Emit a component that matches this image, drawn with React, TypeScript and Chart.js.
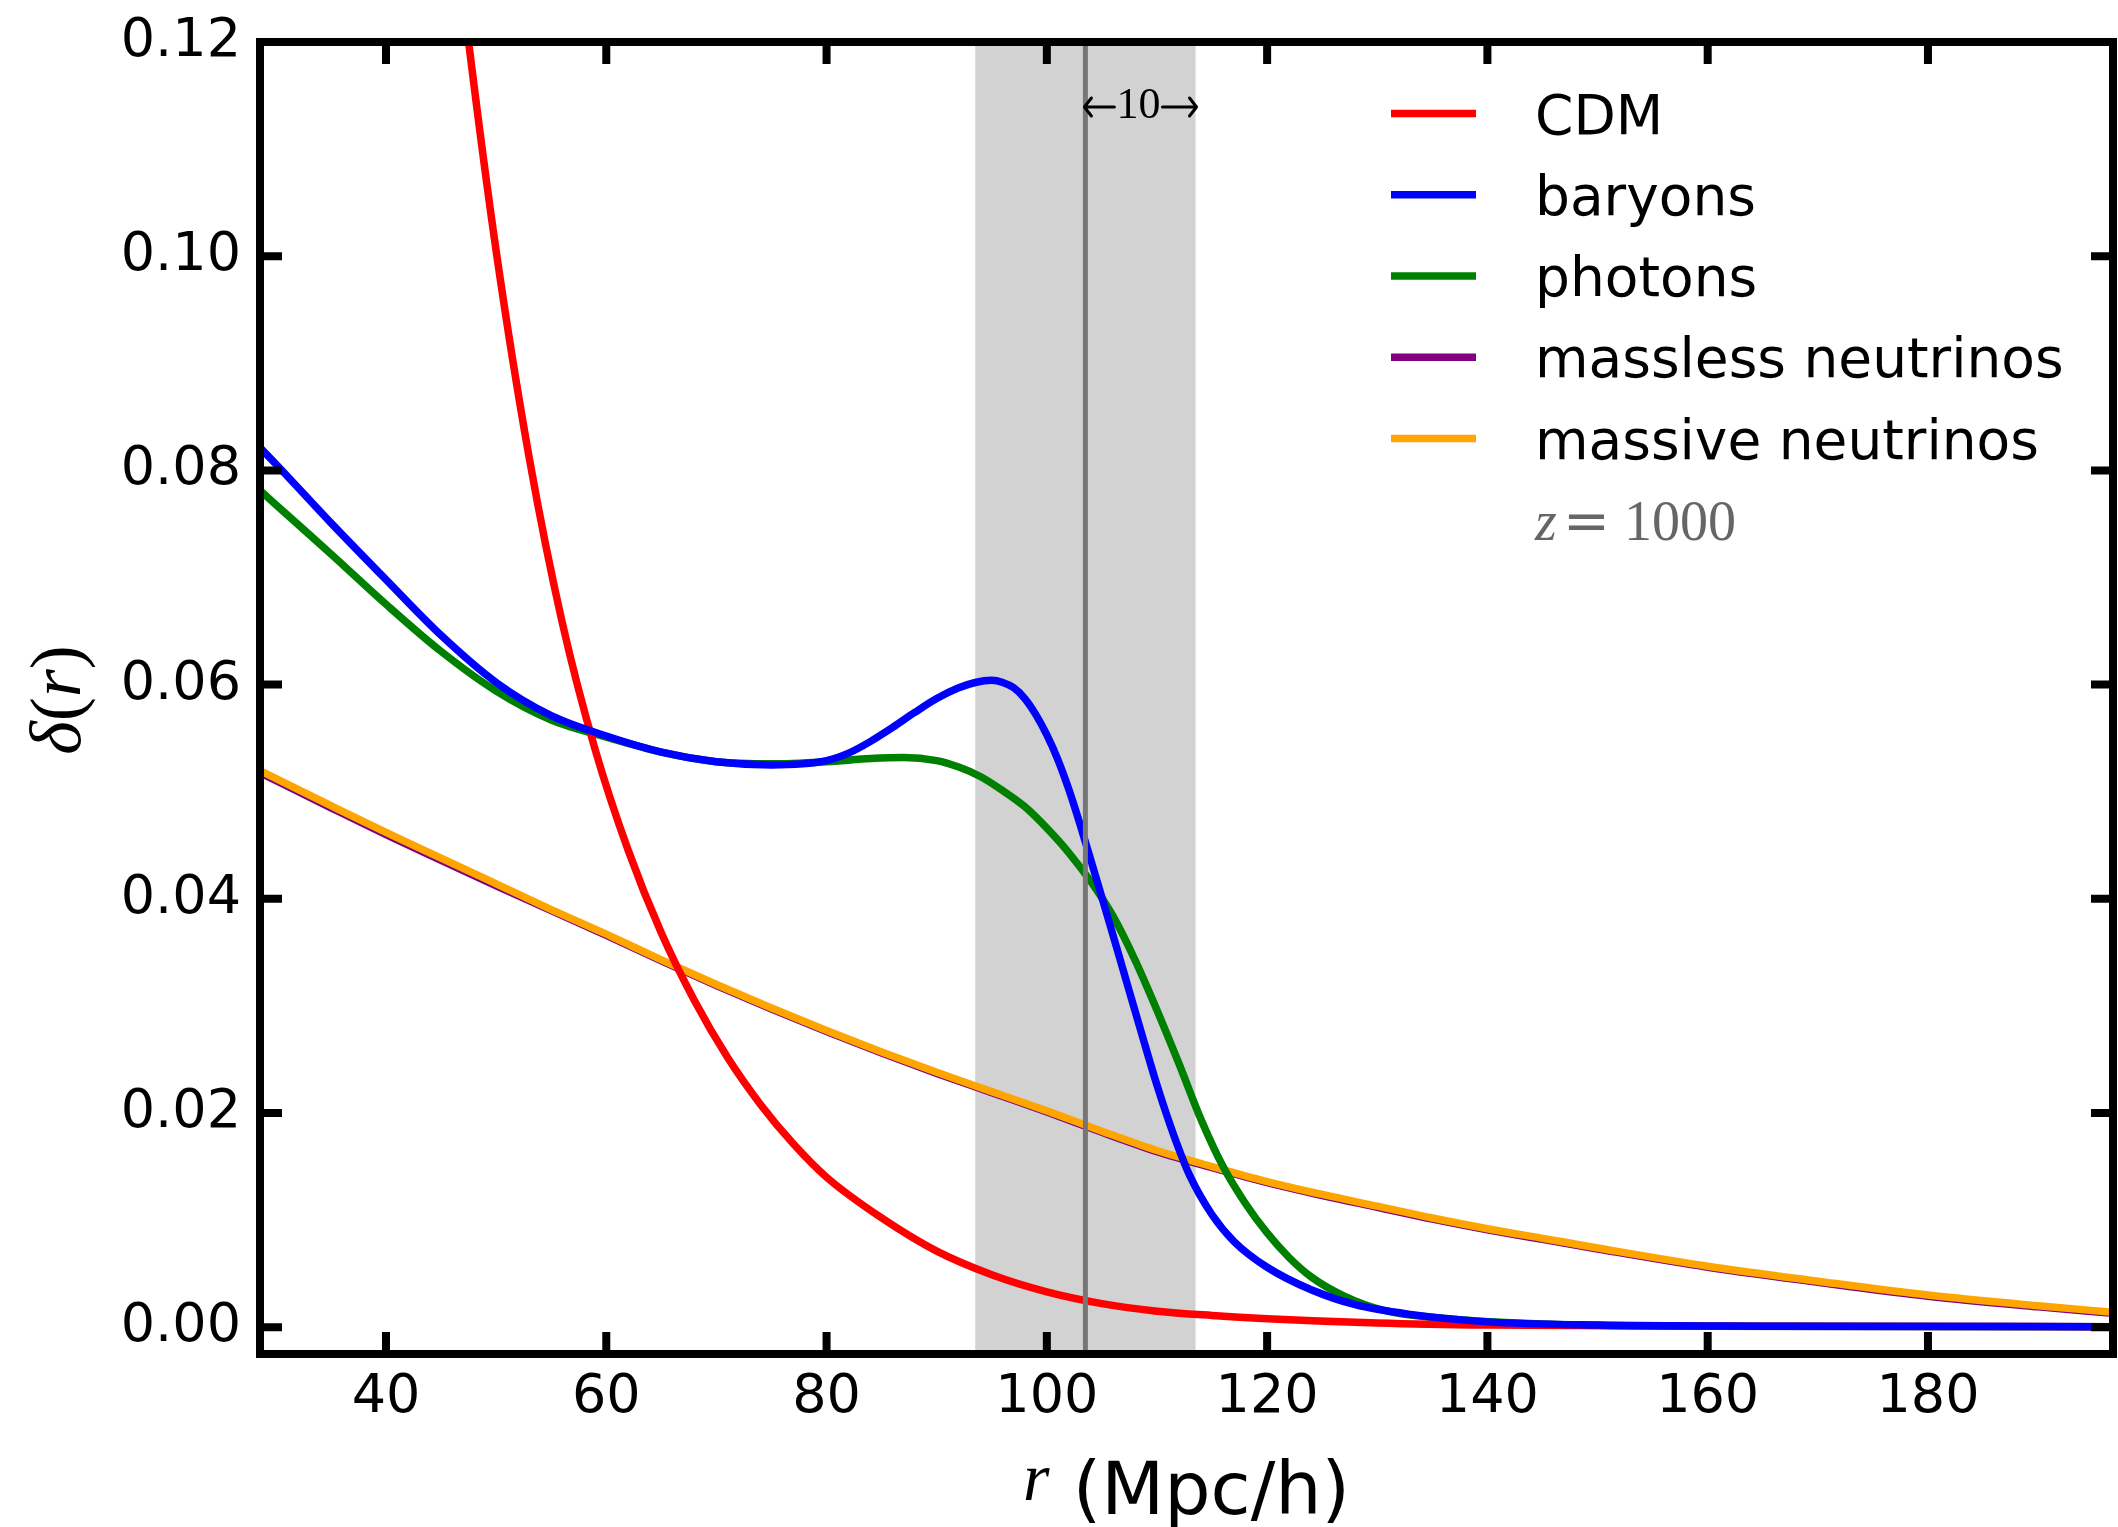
import React, { useEffect, useRef } from 'react';
import { Chart, registerables } from 'chart.js';

Chart.register(...registerables);

// ---------- axis ranges & ticks ----------
const X_MIN = 28.56;
const X_MAX = 196.8;
const Y_MIN = -0.0025;
const Y_MAX = 0.12;
const xTickValues = [40, 60, 80, 100, 120, 140, 160, 180];
const yTickValues = [0, 0.02, 0.04, 0.06, 0.08, 0.1, 0.12];

// ---------- series (r in Mpc/h, delta(r)) ----------
const cdmR = [46, 47.5, 50, 53, 56, 59, 62, 65, 68, 71, 74, 77, 80, 85, 90, 95, 100, 105, 110, 115, 120, 130, 140, 160, 196.8];
const cdmDelta = [0.1332, 0.12, 0.1005, 0.0812, 0.0658, 0.0539, 0.0445, 0.0368, 0.0305, 0.0252, 0.0208, 0.0171, 0.014, 0.0102, 0.0071, 0.0049, 0.0033, 0.0022, 0.0015, 0.0011, 0.0008, 0.0004, 0.0002, 0.0001, 0.00005];

const baryonR = [28.5, 30, 35, 40, 45, 50, 55, 60, 65, 70, 75, 80, 82, 84, 86, 88, 90, 92, 93.5, 95, 96, 97, 98, 99, 100, 101, 102, 103, 104, 105.5, 107, 108.5, 110, 111.5, 113, 115, 117, 120, 124, 128, 133, 140, 150, 165, 196.8];
const baryonDelta = [0.0822, 0.0806, 0.0751, 0.0698, 0.0646, 0.0602, 0.0571, 0.0552, 0.0537, 0.0528, 0.0525, 0.0529, 0.0536, 0.0547, 0.056, 0.0574, 0.0587, 0.0597, 0.0602, 0.0604, 0.0602, 0.0597, 0.0587, 0.0572, 0.0553, 0.053, 0.0502, 0.047, 0.0436, 0.0384, 0.0331, 0.0278, 0.0226, 0.018, 0.0141, 0.0105, 0.008, 0.0056, 0.0035, 0.0021, 0.0012, 0.0005, 0.0002, 0.0001, 0.00005];

const photonR = [28.5, 30, 35, 40, 45, 50, 55, 60, 65, 70, 75, 80, 84, 87, 90, 92, 94, 96, 98, 100, 102, 104, 106, 108, 110, 112, 114, 116, 118, 120, 122, 124, 127, 130.5, 137.5, 145, 160, 196.8];
const photonDelta = [0.0782, 0.0768, 0.0722, 0.0675, 0.0631, 0.0594, 0.0567, 0.0551, 0.0537, 0.0528, 0.0526, 0.0528, 0.0531, 0.0532, 0.0529, 0.0523, 0.0514, 0.0501, 0.0486, 0.0466, 0.0443, 0.0416, 0.0384, 0.0343, 0.0296, 0.0246, 0.0194, 0.015, 0.0116, 0.0088, 0.0065, 0.0047, 0.0029, 0.0016, 0.0007, 0.0003, 0.0001, 0.00005];

const nuR = [28.5, 35, 40, 45, 50, 55, 60, 65, 70, 75, 80, 85, 90, 95, 100, 105, 110, 115, 120, 125, 130, 135, 140, 145, 150, 160, 170, 180, 190, 196.8];
const masslessNuDelta = [0.0518, 0.0485, 0.046, 0.0436, 0.0412, 0.0389, 0.0366, 0.0342, 0.0319, 0.0297, 0.0276, 0.0256, 0.0237, 0.0219, 0.0201, 0.0182, 0.0164, 0.0149, 0.0135, 0.0123, 0.0112, 0.0101, 0.0091, 0.0082, 0.0073, 0.0056, 0.0042, 0.0029, 0.0019, 0.0013];
const massiveNuDelta = [0.052, 0.0487, 0.0462, 0.0438, 0.0414, 0.039, 0.0367, 0.0343, 0.032, 0.0298, 0.0277, 0.0257, 0.0238, 0.022, 0.0202, 0.0183, 0.0165, 0.015, 0.0136, 0.0124, 0.0113, 0.0102, 0.0092, 0.0083, 0.0074, 0.0057, 0.0043, 0.003, 0.002, 0.0014];

const seriesLabels = ['CDM', 'baryons', 'photons', 'massless neutrinos', 'massive neutrinos'];
const seriesColors = ['#ff0000', '#0000ff', '#008000', '#800080', '#ffa500'];
const drawOrder = [1, 0, 2, 4, 3]; // lower = drawn on top

// ---------- annotations ----------
const bandStart = 93.5;
const bandEnd = 113.5;
const peakR = 103.5;
const scaleLabel = '10';
const redshiftValue = '1000';

const SANS = "'DejaVu Sans', 'Bitstream Vera Sans', sans-serif";
const SERIF = "'Liberation Serif', 'DejaVu Serif', serif";
const LINE_W = 7.5;

const pts = (xs: number[], ys: number[]) => xs.map((x, i) => ({ x, y: ys[i] }));

const bandPlugin = {
  id: 'bandPlugin',
  beforeDatasetsDraw(chart: any) {
    const { ctx, chartArea: ca, scales } = chart;
    const x = scales.x;
    const x0 = x.getPixelForValue(bandStart);
    const x1 = x.getPixelForValue(bandEnd);
    ctx.save();
    ctx.beginPath();
    ctx.rect(ca.left, ca.top, ca.width, ca.height);
    ctx.clip();
    ctx.fillStyle = '#d2d2d2';
    ctx.fillRect(x0, ca.top, x1 - x0, ca.height);
    ctx.restore();
  },
  afterDatasetsDraw(chart: any) {
    const { ctx, chartArea: ca, scales } = chart;
    const x = scales.x;
    const y = scales.y;
    const xp = x.getPixelForValue(peakR);
    ctx.save();
    ctx.strokeStyle = '#767676';
    ctx.lineWidth = 5;
    ctx.beginPath();
    ctx.moveTo(xp, ca.top);
    ctx.lineTo(xp, ca.bottom);
    ctx.stroke();

    // frame
    ctx.strokeStyle = '#000';
    ctx.lineWidth = 8;
    ctx.lineCap = 'butt';
    ctx.strokeRect(ca.left, ca.top, ca.width, ca.height);
    const TL = 22;
    ctx.beginPath();
    xTickValues.forEach((v) => {
      const px = x.getPixelForValue(v);
      ctx.moveTo(px, ca.bottom);
      ctx.lineTo(px, ca.bottom - TL);
      ctx.moveTo(px, ca.top);
      ctx.lineTo(px, ca.top + TL);
    });
    yTickValues.forEach((v) => {
      const py = y.getPixelForValue(v);
      ctx.moveTo(ca.left, py);
      ctx.lineTo(ca.left + TL, py);
      ctx.moveTo(ca.right, py);
      ctx.lineTo(ca.right - TL, py);
    });
    ctx.stroke();
    ctx.restore();
  },
  afterDraw(chart: any) {
    const { ctx, chartArea: ca, scales } = chart;
    const x = scales.x;
    ctx.save();
    ctx.textAlign = 'left';
    ctx.textBaseline = 'alphabetic';

    // legend
    const lx0 = ca.right - 722;
    const lx1 = ca.right - 637;
    const tx = ca.right - 578;
    chart.data.datasets.forEach((ds: any, i: number) => {
      const ry = ca.top + 71.5 + i * 81.25;
      ctx.strokeStyle = ds.borderColor;
      ctx.lineWidth = LINE_W;
      ctx.beginPath();
      ctx.moveTo(lx0, ry);
      ctx.lineTo(lx1, ry);
      ctx.stroke();
      ctx.fillStyle = '#000';
      ctx.font = `55px ${SANS}`;
      ctx.fillText(ds.label, tx, ry + 20);
    });

    // z = 1000
    const zy = ca.top + 498;
    ctx.fillStyle = '#666666';
    ctx.font = `italic 56px ${SERIF}`;
    ctx.fillText('z', tx, zy);
    ctx.font = `56px 'DejaVu Serif', serif`;
    ctx.fillText('=', tx + 28, zy);
    ctx.font = `56px ${SERIF}`;
    ctx.fillText(redshiftValue, tx + 89, zy);

    // scale arrow label  <-10->
    const ax0 = x.getPixelForValue(peakR) - 3;
    const ax1 = x.getPixelForValue(bandEnd) + 3;
    const ay = ca.top + 65;
    ctx.fillStyle = '#000';
    ctx.font = `44px ${SERIF}`;
    ctx.textAlign = 'center';
    const midX = ax0 + 56;
    const tw = ctx.measureText(scaleLabel).width;
    ctx.fillText(scaleLabel, midX, ay + 11);
    ctx.strokeStyle = '#000';
    ctx.lineWidth = 3;
    ctx.lineCap = 'round';
    ctx.lineJoin = 'round';
    ctx.beginPath();
    ctx.moveTo(midX - tw / 2 - 2, ay);
    ctx.lineTo(ax0 + 2, ay);
    ctx.moveTo(ax0 + 9, ay - 9);
    ctx.lineTo(ax0 + 2, ay);
    ctx.lineTo(ax0 + 9, ay + 9);
    ctx.moveTo(midX + tw / 2 + 2, ay);
    ctx.lineTo(ax1 - 2, ay);
    ctx.moveTo(ax1 - 9, ay - 9);
    ctx.lineTo(ax1 - 2, ay);
    ctx.lineTo(ax1 - 9, ay + 9);
    ctx.stroke();

    // x title: r (Mpc/h)
    ctx.textAlign = 'left';
    ctx.textBaseline = 'alphabetic';
    const rFont = `italic 68px ${SERIF}`;
    const uFont = `73px ${SANS}`;
    ctx.font = rFont;
    const wr = ctx.measureText('r').width;
    ctx.font = uFont;
    const wu = ctx.measureText(' (Mpc/h)').width;
    const cx = (ca.left + ca.right) / 2;
    const sx = cx - (wr + wu) / 2;
    ctx.fillStyle = '#000';
    ctx.font = rFont;
    ctx.fillText('r', sx, 1500);
    ctx.font = uFont;
    ctx.fillText(' (Mpc/h)', sx + wr, 1514);

    // y title: delta(r)
    ctx.save();
    ctx.translate(80, (ca.top + ca.bottom) / 2 + 2);
    ctx.rotate(-Math.PI / 2);
    const parts: [string, string][] = [
      ['\u03b4', `italic 72px ${SERIF}`],
      ['(', `72px ${SERIF}`],
      ['r', `italic 72px ${SERIF}`],
      [')', `72px ${SERIF}`],
    ];
    let total = 0;
    const widths = parts.map(([t, f]) => {
      ctx.font = f;
      const w = ctx.measureText(t).width;
      total += w;
      return w;
    });
    let px = -total / 2;
    parts.forEach(([t, f], i) => {
      ctx.font = f;
      ctx.fillText(t, px, 0);
      px += widths[i];
    });
    ctx.restore();

    ctx.restore();
  },
};

export default function App() {
  const ref = useRef<HTMLCanvasElement | null>(null);

  useEffect(() => {
    document.body.style.margin = '0';
    const canvas = ref.current;
    if (!canvas) return;
    const seriesData = [
      pts(cdmR, cdmDelta),
      pts(baryonR, baryonDelta),
      pts(photonR, photonDelta),
      pts(nuR, masslessNuDelta),
      pts(nuR, massiveNuDelta),
    ];
    const chart = new Chart(canvas, {
      type: 'line',
      data: {
        datasets: seriesLabels.map((label, i) => ({
          label,
          data: seriesData[i],
          borderColor: seriesColors[i],
          backgroundColor: seriesColors[i],
          borderWidth: LINE_W,
          pointRadius: 0,
          fill: false,
          cubicInterpolationMode: 'monotone' as const,
          order: drawOrder[i],
        })),
      },
      options: {
        animation: false,
        responsive: false,
        devicePixelRatio: 1,
        layout: { padding: { top: 42, right: 5, left: 0, bottom: 0 } },
        plugins: {
          legend: { display: false },
          tooltip: { enabled: false },
          title: { display: false },
        },
        scales: {
          x: {
            type: 'linear',
            min: X_MIN,
            max: X_MAX,
            afterBuildTicks: (s: any) => {
              s.ticks = xTickValues.map((v) => ({ value: v }));
            },
            afterFit: (s: any) => {
              s.height = 173;
              s.paddingLeft = 0;
              s.paddingRight = 0;
            },
            grid: { display: false, drawTicks: false },
            border: { display: false },
            ticks: {
              autoSkip: false,
              maxRotation: 0,
              minRotation: 0,
              padding: 12,
              color: '#000',
              font: { family: SANS, size: 54 },
              callback: (v: any) => String(v),
            },
          },
          y: {
            type: 'linear',
            min: Y_MIN,
            max: Y_MAX,
            afterBuildTicks: (s: any) => {
              s.ticks = yTickValues.map((v) => ({ value: v }));
            },
            afterFit: (s: any) => {
              s.width = 260;
              s.paddingTop = 0;
              s.paddingBottom = 0;
            },
            grid: { display: false, drawTicks: false },
            border: { display: false },
            ticks: {
              autoSkip: false,
              padding: 19,
              color: '#000',
              font: { family: SANS, size: 54 },
              callback: (v: any) => Number(v).toFixed(2),
            },
          },
        },
      },
      plugins: [bandPlugin],
    });
    return () => chart.destroy();
  }, []);

  return (
    <div style={{ position: 'absolute', left: 0, top: 0, width: 2118, height: 1527, background: '#fff', overflow: 'hidden' }}>
      <canvas ref={ref} width={2118} height={1527} style={{ display: 'block', width: 2118, height: 1527 }} />
    </div>
  );
}
